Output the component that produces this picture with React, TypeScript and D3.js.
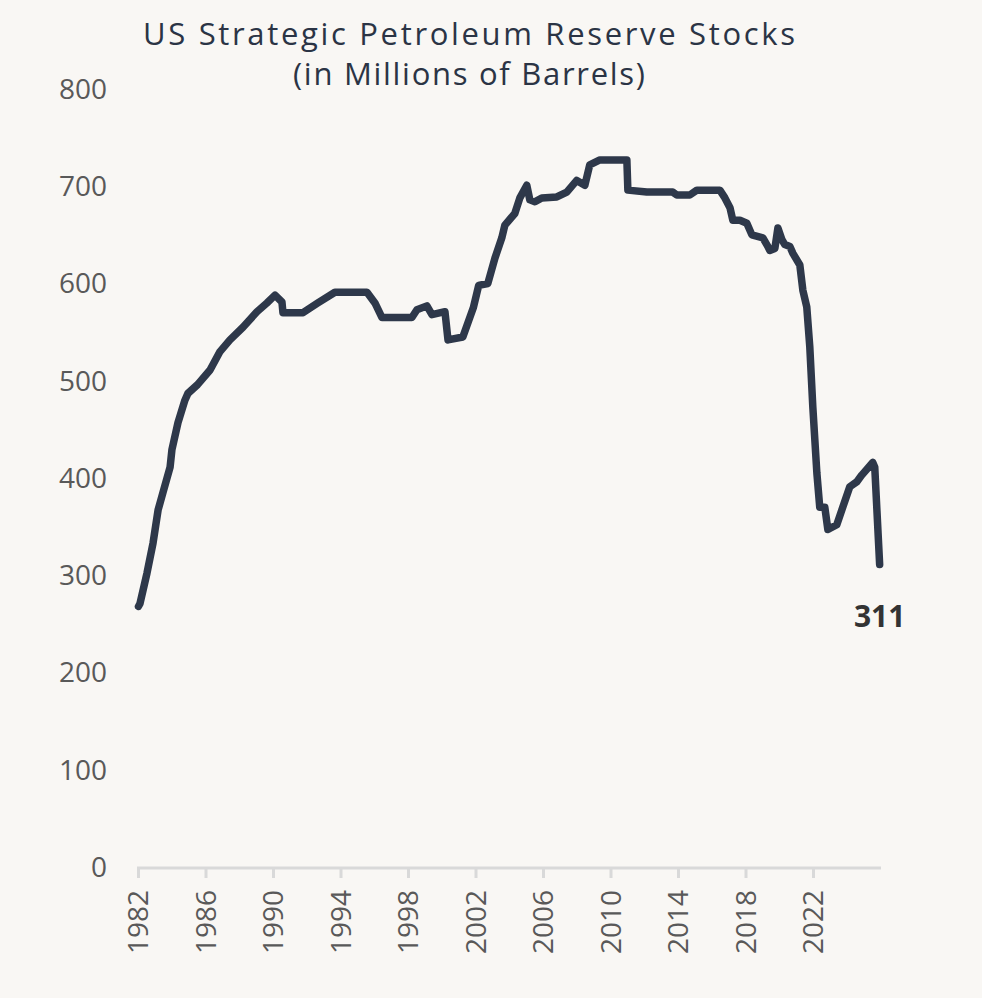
import React from "react";
import * as d3 from "d3";

// SPR stock level, millions of barrels, by fractional year
const years: number[] = [
  1982.0, 1982.09, 1982.5, 1982.86, 1983.16, 1983.45, 1983.87, 1983.98, 1984.34, 1984.75,
  1984.93, 1985.5, 1986.24, 1986.83, 1987.42, 1988.19, 1989.02, 1989.61, 1990.09, 1990.5,
  1990.56, 1991.75, 1992.63, 1993.64, 1995.54, 1996.01, 1996.43, 1998.2, 1998.5, 1999.09,
  1999.39, 2000.16, 2000.34, 2001.22, 2001.84, 2002.16, 2002.7, 2003.12, 2003.53, 2003.71,
  2004.3, 2004.6, 2005.01, 2005.19, 2005.49, 2005.9, 2006.79, 2007.38, 2007.97, 2008.45,
  2008.74, 2009.34, 2010.94, 2011.0, 2012.12, 2013.66, 2013.9, 2014.67, 2015.09, 2016.45,
  2016.75, 2017.05, 2017.22, 2017.64, 2018.05, 2018.35, 2019.0, 2019.3, 2019.41, 2019.71,
  2019.89, 2020.13, 2020.3, 2020.6, 2020.78, 2021.19, 2021.37, 2021.6, 2021.78, 2021.96,
  2022.2, 2022.37, 2022.67, 2022.85, 2023.38, 2024.15, 2024.56, 2024.86, 2025.51, 2025.63,
  2025.92,
];
const stocks: number[] = [
  268, 271, 302, 333, 367, 385, 411, 429, 457, 480,
  487, 496, 511, 530, 542, 555, 571, 580, 588, 581,
  570, 570, 580, 591, 591, 580, 565, 565, 573, 577,
  568, 571, 542, 545, 575, 598, 600, 626, 647, 660,
  672, 688, 701, 686, 684, 688, 689, 694, 706, 701,
  722, 727, 727, 696, 694, 694, 691, 691, 696, 696,
  688, 678, 665, 665, 662, 650, 647, 638, 634, 636,
  657, 645, 640, 638, 631, 619, 593, 576, 535, 473,
  405, 370, 370, 347, 352, 391, 396, 403, 416, 411,
  311,
];

const yTicks: number[] = [0, 100, 200, 300, 400, 500, 600, 700, 800];
const xTicks: number[] = [1982, 1986, 1990, 1994, 1998, 2002, 2006, 2010, 2014, 2018, 2022];
const titleLines: string[] = [
  "US Strategic Petroleum Reserve Stocks",
  "(in Millions of Barrels)",
];
const titleWidths: number[] = [652, 352];

const W = 982;
const H = 998;
const FONT = "'Open Sans', 'Noto Sans', sans-serif";

export default function App() {
  const x = d3.scaleLinear().domain([1982, 2026]).range([138.5, 881]);
  const y = d3.scaleLinear().domain([0, 800]).range([867, 89]);

  const points = years.map((yr, i) => [yr, stocks[i]] as [number, number]);
  const line = d3
    .line<[number, number]>()
    .x((d) => x(d[0]))
    .y((d) => y(d[1]))
    .curve(d3.curveLinear);

  const last = points[points.length - 1];

  return (
    <svg
      width={W}
      height={H}
      style={{ position: "absolute", left: 0, top: 0, display: "block" }}
    >
      <rect x={0} y={0} width={W} height={H} fill="#f9f7f4" />

      {titleLines.map((t, i) => (
        <text
          key={t}
          x={469}
          y={45 + i * 40}
          textAnchor="middle"
          fontFamily={FONT}
          fontSize={31}
          fontWeight={500}
          fill="#2b3445"
          textLength={titleWidths[i]}
          lengthAdjust="spacing"
        >
          {t}
        </text>
      ))}

      {yTicks.map((v) => (
        <text
          key={v}
          x={107}
          y={y(v)}
          dy="0.35em"
          textAnchor="end"
          fontFamily={FONT}
          fontSize={28}
          fill="#595959"
        >
          {v}
        </text>
      ))}

      <line x1={x(1982) - 1.5} x2={x(2026)} y1={868} y2={868} stroke="#d9d9d9" strokeWidth={3} />
      {xTicks.map((t) => (
        <g key={t} transform={`translate(${x(t)},868)`}>
          <line y1={0} y2={10} stroke="#d9d9d9" strokeWidth={3} />
          <text
            transform="translate(0,22) rotate(-90)"
            dy="0.35em"
            textAnchor="end"
            fontFamily={FONT}
            fontSize={28}
            fill="#595959"
          >
            {t}
          </text>
        </g>
      ))}

      <path
        d={line(points) || ""}
        fill="none"
        stroke="#2e384a"
        strokeWidth={7.5}
        strokeLinejoin="round"
        strokeLinecap="round"
      />

      <text
        x={x(last[0])}
        y={627}
        textAnchor="middle"
        fontFamily={FONT}
        fontSize={30}
        fontWeight="bold"
        fill="#333333"
      >
        {last[1]}
      </text>
    </svg>
  );
}
